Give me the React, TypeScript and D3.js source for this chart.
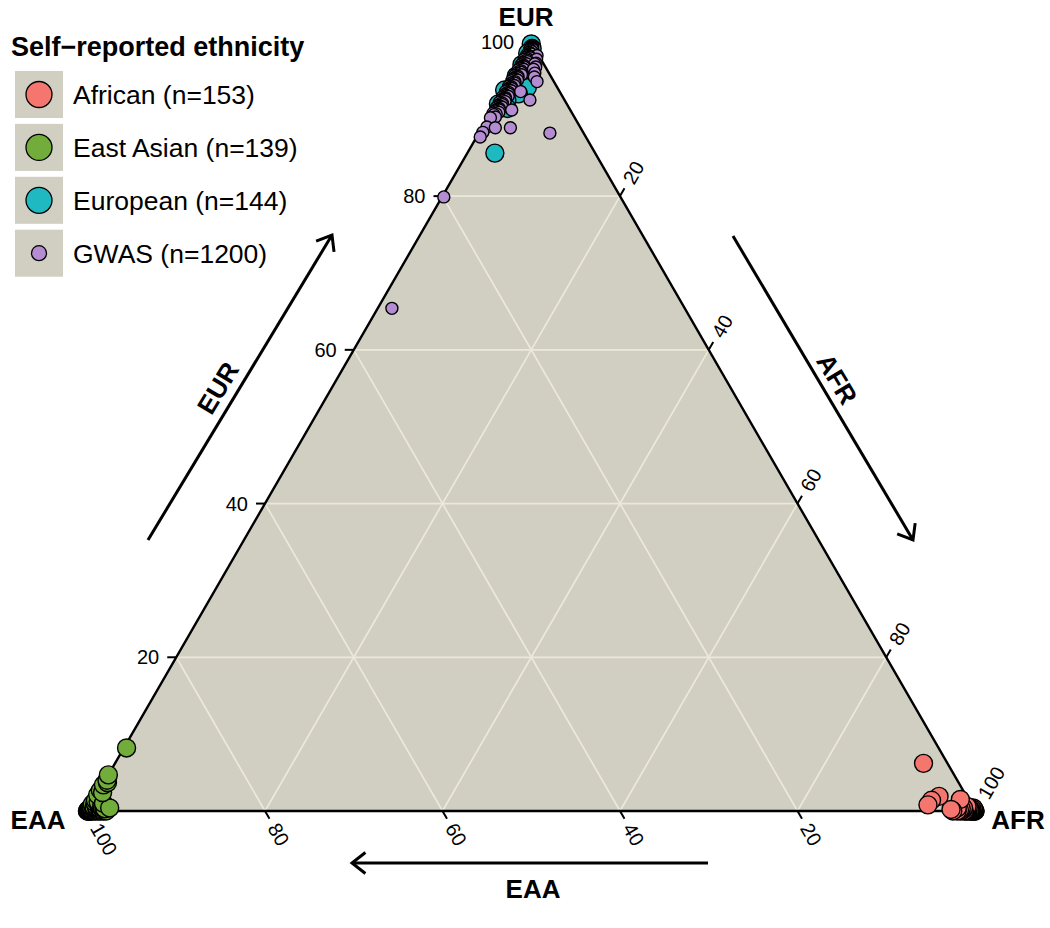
import React from 'react';
import * as d3 from 'd3';

// Ternary ancestry plot: EUR (top), EAA (bottom-left), AFR (bottom-right)
const tickValues = [20, 40, 60, 80, 100];
const gridValues = [20, 40, 60, 80];
const groupNames = ['African (n=153)', 'East Asian (n=139)', 'European (n=144)', 'GWAS (n=1200)'];
const groupColors = ['#f4766e', '#72ac3b', '#1fb9c2', '#b48cd2'];

// Each sample: [EUR, AFR, EAA] ancestry percentages
const african: number[][] = [
  [0.0, 100, 0.0], [0.1, 99.8, 0.1], [0.2, 99.3, 0.5], [0.0, 99.5, 0.5], [0.3, 98.3, 1.4],
  [0.1, 98.9, 1.0], [0.0, 98.0, 2.0], [0.2, 97.2, 2.6], [0.5, 99.0, 0.5], [0.0, 99.9, 0.1],
  [0.1, 99.0, 0.9], [0.2, 98.6, 1.2], [0.0, 99.2, 0.8], [0.3, 99.5, 0.2], [0.1, 98.2, 1.7],
  [0.0, 97.5, 2.5], [6.2, 91.1, 2.7], [1.4, 94.4, 4.2], [1.9, 95.0, 3.1],
  [0.8, 94.3, 4.9], [1.5, 97.6, 0.9], [0.4, 97.8, 1.8], [0.6, 98.8, 0.6], [0.4, 99.6, 0.0],
  [0.0, 99.7, 0.3], [0.1, 99.4, 0.5],
  [0.0, 99.6, 0.4], [0.2, 99.7, 0.1], [0.1, 99.1, 0.8], [0.3, 98.9, 0.8], [0.0, 98.8, 1.2],
  [0.4, 98.5, 1.1], [0.1, 99.5, 0.4], [0.0, 99.0, 1.0], [0.3, 99.7, 0.0], [0.0, 98.4, 1.6],
  [0.0, 100, 0.0],
];

const eastAsian: number[][] = [
  [0.0, 0.0, 100], [0.1, 0.0, 99.9], [0.6, 0.3, 99.1], [0.2, 0.8, 99.0], [0.0, 0.4, 99.6],
  [0.9, 0.1, 99.0], [0.3, 1.2, 98.5], [0.0, 1.5, 98.5], [0.1, 1.9, 98.0], [0.5, 1.6, 97.9],
  [0.2, 0.1, 99.7], [0.1, 0.3, 99.6], [0.5, 0.2, 99.3], [0.3, 0.6, 99.1], [0.4, 0.9, 98.7],
  [0.8, 0.5, 98.7], [1.0, 1.3, 97.7], [1.4, 0.2, 98.4], [2.1, 0.1, 97.8], [2.4, 0.5, 97.1],
  [2.7, 0.1, 97.2], [3.4, 0.1, 96.5], [3.7, 0.4, 95.9], [4.0, 0.2, 95.8], [4.7, 0.0, 95.3],
  [8.2, 0.3, 91.5],
  [0.0, 0.2, 99.8], [0.3, 0.3, 99.4], [0.0, 0.9, 99.1], [0.6, 0.7, 98.7], [0.2, 1.4, 98.4],
  [0.0, 2.1, 97.9], [0.4, 2.3, 97.3], [0.7, 1.1, 98.2], [1.2, 0.6, 98.2], [0.0, 0.6, 99.4],
  [0.1, 1.1, 98.8], [0.3, 1.8, 97.9],
  [0.0, 0.1, 99.9], [0.2, 0.4, 99.4], [0.4, 0.1, 99.5], [0.1, 0.7, 99.2], [0.5, 0.5, 99.0],
  [0.0, 1.2, 98.8], [0.3, 0.9, 98.8], [0.2, 1.6, 98.2], [0.6, 1.3, 98.1], [0.0, 1.8, 98.2],
  [0.8, 0.9, 98.3], [1.1, 0.3, 98.6], [0.4, 1.5, 98.1], [0.1, 0.5, 99.4], [0.0, 0.3, 99.7],
  [0.0, 0.0, 100],
];

const european: number[][] = [
  [99.8, 0.1, 0.1], [99.2, 0.5, 0.3], [98.6, 0.3, 1.1], [98.2, 1.0, 0.8], [97.9, 0.7, 1.4],
  [97.1, 0.4, 2.5], [96.9, 1.5, 1.6], [96.4, 0.9, 2.7], [95.6, 0.5, 3.9], [94.8, 1.2, 4.0],
  [94.1, 2.5, 3.4], [93.8, 0.1, 6.1], [93.3, 1.9, 4.8], [92.5, 1.0, 6.5], [92.0, 0.3, 7.7],
  [91.4, 1.6, 7.0], [85.6, 3.1, 11.3],
];

// scattered GWAS samples away from the main cluster
const gwasSpread: number[][] = [
  [99.1, 0.3, 0.6], [97.2, 1.8, 1.0], [96.5, 2.0, 1.5], [96.0, 2.4, 1.6], [95.5, 2.6, 1.9],
  [94.9, 3.2, 1.9], [93.6, 2.0, 4.4], [92.5, 3.6, 3.9], [91.2, 2.2, 6.6], [90.3, 0.8, 8.9],
  [90.2, 0.3, 9.5], [89.0, 0.5, 10.5], [88.9, 1.5, 9.6], [88.9, 3.2, 7.9], [88.3, 0.4, 11.3],
  [87.7, 0.4, 11.9], [88.2, 8.0, 3.8], [79.9, 0.2, 19.9], [65.4, 1.6, 33.0],
  [98.3, 1.5, 0.2], [97.8, 1.7, 0.5], [97.3, 1.9, 0.8], [96.8, 2.1, 1.1],
];

// main GWAS cluster hugging the EUR–EAA edge
const gwasCore: number[][] = [
  [99.6, 0.3, 0.1], [99.5, 0.4, 0.1], [99.4, 0.3, 0.3], [99.3, 0.5, 0.2], [99.2, 0.4, 0.4],
  [99.1, 0.6, 0.3], [99.0, 0.3, 0.7], [98.9, 0.5, 0.6], [98.8, 0.7, 0.5], [98.7, 0.4, 0.9],
  [98.6, 0.6, 0.8], [98.5, 0.8, 0.7], [98.4, 0.3, 1.3], [98.3, 0.5, 1.2], [98.2, 0.7, 1.1],
  [98.1, 0.4, 1.5], [98.0, 0.9, 1.1], [97.9, 0.6, 1.5], [97.8, 0.3, 1.9], [97.7, 0.7, 1.6],
  [97.6, 0.5, 1.9], [97.5, 0.8, 1.7], [97.4, 0.4, 2.2], [97.3, 0.6, 2.1], [97.2, 0.9, 1.9],
  [97.1, 0.3, 2.6], [97.0, 0.7, 2.3], [96.9, 0.5, 2.6], [96.8, 0.8, 2.4], [96.7, 0.4, 2.9],
  [96.6, 0.6, 2.8], [96.5, 0.9, 2.6], [96.4, 0.3, 3.3], [96.3, 0.7, 3.0], [96.2, 0.5, 3.3],
  [96.1, 0.8, 3.1], [96.0, 0.4, 3.6], [95.9, 0.6, 3.5], [95.8, 1.0, 3.2], [95.7, 0.3, 4.0],
  [95.6, 0.7, 3.7], [95.5, 0.5, 4.0], [95.4, 0.8, 3.8], [95.3, 0.4, 4.3], [95.2, 0.6, 4.2],
  [95.1, 0.9, 4.0], [95.0, 0.3, 4.7], [94.9, 0.7, 4.4], [94.8, 0.5, 4.7], [94.7, 0.8, 4.5],
  [94.6, 0.4, 5.0], [94.5, 0.6, 4.9], [94.4, 0.9, 4.7], [94.3, 0.3, 5.4], [94.2, 0.7, 5.1],
  [94.1, 0.5, 5.4], [94.0, 0.8, 5.2], [93.9, 0.4, 5.7], [93.8, 0.6, 5.6], [93.7, 0.9, 5.4],
  [93.6, 0.3, 6.1], [93.5, 0.7, 5.8], [93.4, 0.5, 6.1], [93.3, 0.8, 5.9], [93.2, 0.4, 6.4],
  [93.1, 0.6, 6.3], [93.0, 0.9, 6.1], [92.9, 0.3, 6.8], [92.8, 0.7, 6.5], [92.7, 0.5, 6.8],
  [92.6, 0.8, 6.6], [92.5, 0.4, 7.1], [92.4, 0.6, 7.0], [92.3, 0.9, 6.8], [92.2, 0.3, 7.5],
  [92.1, 0.7, 7.2], [92.0, 0.5, 7.5], [91.9, 0.8, 7.3], [91.8, 0.4, 7.8], [91.7, 0.6, 7.7],
  [91.6, 0.9, 7.5], [91.5, 0.3, 8.2], [91.4, 0.7, 7.9], [91.3, 0.5, 8.2], [91.2, 0.8, 8.0],
  [91.1, 0.4, 8.5], [91.0, 0.6, 8.4], [90.9, 0.9, 8.2], [90.8, 0.3, 8.9], [90.7, 0.7, 8.6],
  [90.6, 0.5, 8.9],
];

const gwas = gwasCore.concat(gwasSpread);

// index of the component each group is concentrated at: draw the purest samples first
const groups = [african, eastAsian, european, gwas];
const homeIndex = [1, 2, 0, 0];

const W = 1050;
const H = 928;
const FONT = "'Liberation Sans', Arial, Helvetica, sans-serif";

// triangle frame
const x0 = 87.5;
const side = 887.5;
const baseY = 811;
const height = (side * Math.sqrt(3)) / 2;

const xScale = d3.scaleLinear().domain([0, 100]).range([x0, x0 + side]);
const yScale = d3.scaleLinear().domain([0, 100]).range([baseY, baseY - height]);

function project(eur: number, afr: number, eaa: number): [number, number] {
  const t = eur + afr + eaa;
  const e = (eur / t) * 100;
  const a = (afr / t) * 100;
  return [xScale(a + e / 2), yScale(e)];
}

const c60 = 0.5;
const s60 = Math.sqrt(3) / 2;

function Arrow({ x1, y1, x2, y2 }: { x1: number; y1: number; x2: number; y2: number }) {
  const ang = Math.atan2(y2 - y1, x2 - x1);
  const len = 17;
  const spread = (38 * Math.PI) / 180;
  const a1 = ang + Math.PI - spread;
  const a2 = ang + Math.PI + spread;
  const head = `M${x2 + len * Math.cos(a1)},${y2 + len * Math.sin(a1)}L${x2},${y2}L${x2 + len * Math.cos(a2)},${y2 + len * Math.sin(a2)}`;
  return (
    <g stroke="#000" strokeWidth={3} fill="none" strokeLinecap="butt">
      <line x1={x1} y1={y1} x2={x2} y2={y2} />
      <path d={head} />
    </g>
  );
}

export default function App() {
  const top = project(100, 0, 0);
  const left = project(0, 0, 100);
  const right = project(0, 100, 0);
  const tri = d3.line()([top, left, right]) + 'Z';

  const grid: [number, number][][] = [];
  gridValues.forEach((v) => {
    grid.push([project(v, 0, 100 - v), project(v, 100 - v, 0)]);
    grid.push([project(0, v, 100 - v), project(100 - v, v, 0)]);
    grid.push([project(0, 100 - v, v), project(100 - v, 0, v)]);
  });

  const tickLen = 9;
  const labelGap = 16;
  const tickFont = 20;

  const sizes = [9, 9, 9, 6];

  const ordered = groups.map((pts, gi) => d3.sort(pts, (a, b) => b[homeIndex[gi]] - a[homeIndex[gi]]));

  return (
    <svg
      width={W}
      height={H}
      viewBox={`0 0 ${W} ${H}`}
      style={{ position: 'absolute', left: 0, top: 0, display: 'block', background: '#fff' }}
      fontFamily={FONT}
    >
      {/* panel */}
      <path d={tri} fill="#d1cec2" />
      {grid.map((seg, i) => (
        <line
          key={i}
          x1={seg[0][0]}
          y1={seg[0][1]}
          x2={seg[1][0]}
          y2={seg[1][1]}
          stroke="#ede9da"
          strokeWidth={1.7}
        />
      ))}
      <path d={tri} fill="none" stroke="#000" strokeWidth={2.4} strokeLinejoin="miter" />

      {/* EUR axis (left edge) */}
      {tickValues.map((v) => {
        const [px, py] = project(v, 0, 100 - v);
        return (
          <g key={'eur' + v}>
            <line x1={px} y1={py} x2={px - tickLen} y2={py} stroke="#000" strokeWidth={2} />
            <text x={px - labelGap - 1} y={py} textAnchor="end" dominantBaseline="central" fontSize={tickFont}>
              {v}
            </text>
          </g>
        );
      })}

      {/* AFR axis (right edge) */}
      {tickValues.map((v) => {
        const [px, py] = project(100 - v, v, 0);
        const tx = px + labelGap * c60;
        const ty = py - labelGap * s60;
        return (
          <g key={'afr' + v}>
            <line x1={px} y1={py} x2={px + tickLen * c60} y2={py - tickLen * s60} stroke="#000" strokeWidth={2} />
            <text
              x={tx}
              y={ty}
              transform={`rotate(-60 ${tx} ${ty})`}
              textAnchor="start"
              dominantBaseline="central"
              fontSize={tickFont}
            >
              {v}
            </text>
          </g>
        );
      })}

      {/* EAA axis (bottom edge) */}
      {tickValues.map((v) => {
        const [px, py] = project(0, 100 - v, v);
        const tx = px + labelGap * c60;
        const ty = py + labelGap * s60;
        return (
          <g key={'eaa' + v}>
            <line x1={px} y1={py} x2={px + tickLen * c60} y2={py + tickLen * s60} stroke="#000" strokeWidth={2} />
            <text
              x={tx}
              y={ty}
              transform={`rotate(60 ${tx} ${ty})`}
              textAnchor="start"
              dominantBaseline="central"
              fontSize={tickFont}
            >
              {v}
            </text>
          </g>
        );
      })}

      {/* samples */}
      {ordered.map((pts, gi) => (
        <g key={'g' + gi}>
          {pts.map((p, i) => {
            const [cx, cy] = project(p[0], p[1], p[2]);
            return (
              <circle
                key={i}
                cx={cx}
                cy={cy}
                r={sizes[gi]}
                fill={groupColors[gi]}
                stroke="#000"
                strokeWidth={1.4}
              />
            );
          })}
        </g>
      ))}

      {/* vertex labels */}
      <text x={526} y={26} textAnchor="middle" fontSize={26} fontWeight="bold">EUR</text>
      <text x={38} y={829} textAnchor="middle" fontSize={26} fontWeight="bold">EAA</text>
      <text x={1018} y={829} textAnchor="middle" fontSize={26} fontWeight="bold">AFR</text>

      {/* direction arrows */}
      <Arrow x1={148} y1={540} x2={332} y2={235} />
      <text
        x={218}
        y={388}
        transform={`rotate(-59 218 388)`}
        textAnchor="middle"
        dominantBaseline="central"
        fontSize={26}
        fontWeight="bold"
      >
        EUR
      </text>
      <Arrow x1={733} y1={236} x2={913} y2={540} />
      <text
        x={837}
        y={379}
        transform={`rotate(59 837 379)`}
        textAnchor="middle"
        dominantBaseline="central"
        fontSize={26}
        fontWeight="bold"
      >
        AFR
      </text>
      <Arrow x1={708} y1={863} x2={352} y2={863} />
      <text x={533} y={898} textAnchor="middle" fontSize={26} fontWeight="bold">EAA</text>

      {/* legend */}
      <text x={11} y={56} fontSize={27} fontWeight="bold">Self−reported ethnicity</text>
      {groupNames.map((name, i) => {
        const by = 71 + i * 52.9;
        return (
          <g key={name}>
            <rect x={15} y={by} width={48} height={47} fill="#d1cec2" />
            <circle
              cx={39}
              cy={by + 23.5}
              r={i === 3 ? 7.5 : 13}
              fill={groupColors[i]}
              stroke="#000"
              strokeWidth={1.3}
            />
            <text x={73} y={by + 33} fontSize={26.5}>
              {name}
            </text>
          </g>
        );
      })}
    </svg>
  );
}
